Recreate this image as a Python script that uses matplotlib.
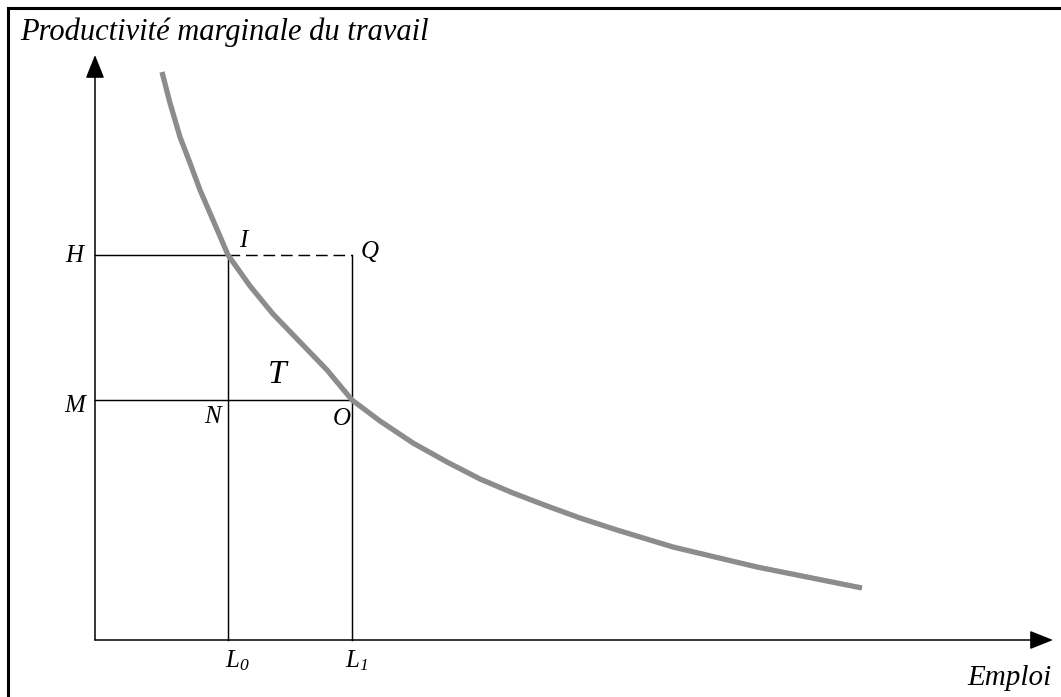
import matplotlib
matplotlib.use("Agg")
import matplotlib.pyplot as plt
from matplotlib.lines import Line2D

plt.rcParams['font.family'] = ['Liberation Serif', 'DejaVu Serif']
plt.rcParams['mathtext.fontset'] = 'custom'
plt.rcParams['mathtext.it'] = 'Liberation Serif:italic'
plt.rcParams['mathtext.rm'] = 'Liberation Serif:italic'

# courbe de productivite marginale
emploi = [0.67, 0.75, 0.85, 0.95, 1.05, 1.18, 1.33, 1.55, 1.78, 2.05, 2.32, 2.57,
          2.85, 3.18, 3.52, 3.85, 4.18, 4.52, 4.85, 5.22, 5.78, 6.62, 7.52, 7.67]
productivite = [5.68, 5.37, 5.03, 4.77, 4.50, 4.20, 3.85, 3.54, 3.26, 2.98, 2.70, 2.40,
                2.19, 1.97, 1.78, 1.61, 1.47, 1.34, 1.22, 1.10, 0.93, 0.73, 0.55, 0.52]

L0 = 1.33
L1 = 2.57
H = 3.85
M = 2.40
x_max = 9.58
y_max = 5.85

fig = plt.figure(figsize=(10.61, 6.97), dpi=100)
ax = fig.add_axes([0, 0, 1, 1])
ax.set_xlim(-0.95, 9.66)
ax.set_ylim(-0.57, 6.40)
ax.axis('off')

# cadre (haut et gauche)
fig.add_artist(Line2D([0.0075, 0.0075], [0.0, 0.9885], transform=fig.transFigure, color='black', lw=2.2))
fig.add_artist(Line2D([0.0075, 1.0], [0.9885, 0.9885], transform=fig.transFigure, color='black', lw=2.2))

# axes avec fleches
arrow = dict(arrowstyle='-|>,head_length=0.4,head_width=0.16', mutation_scale=36,
             color='black', lw=1.1, shrinkA=0, shrinkB=0)
ax.annotate('', xy=(x_max, 0), xytext=(0, 0), arrowprops=arrow)
ax.annotate('', xy=(0, y_max), xytext=(0, 0), arrowprops=arrow)

# rectangles
lw = 1.05
ax.plot([L0, L0], [0, H], color='black', lw=lw)
ax.plot([L1, L1], [0, H], color='black', lw=lw)
ax.plot([0, L0], [H, H], color='black', lw=lw)
ax.plot([L0, L1], [H, H], color='black', lw=lw, dashes=(8, 4))
ax.plot([0, L1], [M, M], color='black', lw=lw)

# courbe
ax.plot(emploi, productivite, color='#8c8c8c', lw=3.8, solid_capstyle='butt',
        solid_joinstyle='round', zorder=3)

fs = 18
ax.text(-0.75, 6.00, 'Productivité marginale du travail', fontsize=22, style='italic', ha='left', va='baseline')
ax.text(9.57, -0.45, 'Emploi', fontsize=21, style='italic', ha='right', va='baseline')
ax.text(-0.21, 3.78, 'H', fontsize=fs, style='italic', ha='center', va='baseline')
ax.text(-0.20, 2.28, 'M', fontsize=fs, style='italic', ha='center', va='baseline')
ax.text(1.17, 2.17, 'N', fontsize=fs, style='italic', ha='center', va='baseline')
ax.text(2.47, 2.15, 'O', fontsize=fs, style='italic', ha='center', va='baseline')
ax.text(1.48, 3.93, 'I', fontsize=fs, style='italic', ha='center', va='baseline')
ax.text(2.75, 3.82, 'Q', fontsize=fs, style='italic', ha='center', va='baseline')
ax.text(1.82, 2.57, 'T', fontsize=24, style='italic', ha='center', va='baseline')
ax.text(1.30, -0.27, r'$L_{\mathit{0}}$', fontsize=fs, ha='left', va='baseline')
ax.text(2.50, -0.27, r'$L_{\mathit{1}}$', fontsize=fs, ha='left', va='baseline')

fig.savefig('out.png', dpi=100)
